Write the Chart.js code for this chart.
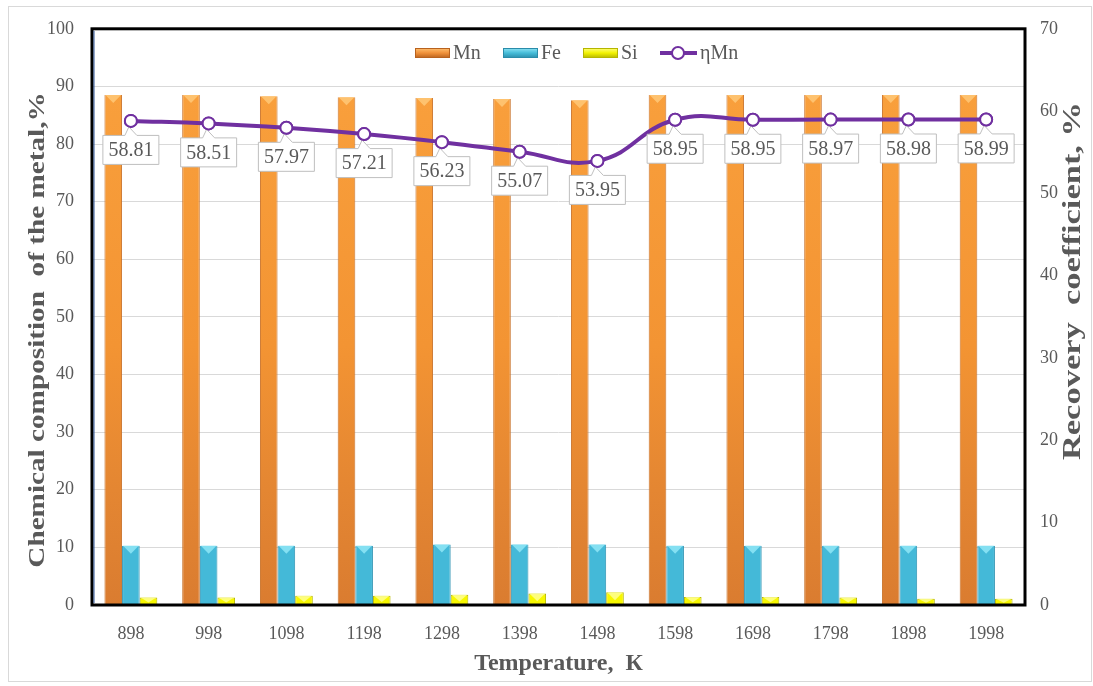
<!DOCTYPE html>
<html><head><meta charset="utf-8">
<script src="https://cdn.jsdelivr.net/npm/chart.js@4.4.1/dist/chart.umd.min.js"></script>
<style>
html,body{margin:0;padding:0;background:#fff;}
#wrap{position:absolute;left:0;top:0;width:1093px;height:686px;}
#frame{position:absolute;left:8px;top:6px;width:1084px;height:676px;border:1px solid #d9d9d9;box-sizing:border-box;pointer-events:none;}
</style></head>
<body>
<div id="wrap"><canvas id="c" width="1093" height="686"></canvas></div>
<div id="frame"></div>
<script>
const categories = ['898','998','1098','1198','1298','1398','1498','1598','1698','1798','1898','1998'];
const mnValues = [88.5,88.5,88.3,88.1,88.0,87.8,87.6,88.5,88.5,88.5,88.5,88.5];
const feValues = [10.3,10.3,10.3,10.3,10.5,10.5,10.5,10.3,10.3,10.3,10.3,10.3];
const siValues = [1.3,1.3,1.6,1.6,1.8,2.0,2.2,1.4,1.4,1.3,1.1,1.1];
const etaValues = [58.81,58.51,57.97,57.21,56.23,55.07,53.95,58.95,58.95,58.97,58.98,58.99];
const leftTicks = [0,10,20,30,40,50,60,70,80,90,100];
const rightTicks = [0,10,20,30,40,50,60,70];
const leftTitle = 'Chemical composition  of the metal,%';
const rightTitle = 'Recovery  coefficient, %';

const SERIF = '"Liberation Serif","DejaVu Serif",serif';
const GREY = '#595959';

function vGrad(stops){
  return function(ctx){
    const a = ctx.chart.chartArea;
    if(!a) return stops[1][1];
    const g = ctx.chart.ctx.createLinearGradient(0, a.top, 0, a.bottom);
    stops.forEach(s=>g.addColorStop(s[0], s[1]));
    return g;
  };
}

const bevelPlugin = {
  id:'bevel',
  afterDatasetsDraw(chart){
    const c = chart.ctx;
    const tops = ['#FFC878','#8FE6F7','#FFFF90'];
    [0,1,2].forEach(di=>{
      chart.getDatasetMeta(di).data.forEach(el=>{
        const w = el.width, x0 = el.x - w/2, y0 = el.y;
        c.save();
        c.fillStyle = tops[di];
        c.globalAlpha = 0.85;
        c.beginPath();
        c.moveTo(x0+1, y0); c.lineTo(x0+w-1, y0); c.lineTo(el.x, y0 + Math.min(8, (el.base - el.y)*0.7)); c.closePath();
        c.fill();
        c.restore();
      });
    });
  }
};

const labelPlugin = {
  id:'etaLabels',
  afterDatasetsDraw(chart){
    const c = chart.ctx;
    const meta = chart.getDatasetMeta(3);
    c.save();
    c.font = '20px ' + SERIF;
    meta.data.forEach((pt,i)=>{
      const txt = etaValues[i].toFixed(2);
      const tw = c.measureText(txt).width;
      const w = tw + 12, h = 30;
      const x = pt.x - w/2, y = pt.y + 14;
      c.fillStyle = '#fff';
      c.strokeStyle = '#BFBFBF';
      c.lineWidth = 1;
      c.beginPath();
      c.moveTo(x+0.5, y+0.5);
      c.lineTo(pt.x - 6, y+0.5);
      c.lineTo(pt.x - 2, pt.y + 6);
      c.lineTo(pt.x + 6, y+0.5);
      c.lineTo(x + w - 0.5, y+0.5);
      c.lineTo(x + w - 0.5, y + h - 0.5);
      c.lineTo(x + 0.5, y + h - 0.5);
      c.closePath();
      c.fill(); c.stroke();
      c.fillStyle = GREY;
      c.textAlign = 'center';
      c.textBaseline = 'middle';
      c.fillText(txt, pt.x, y + h/2 + 1);
    });
    meta.data.forEach(pt=>{
      c.beginPath();
      c.arc(pt.x, pt.y, 6, 0, Math.PI*2);
      c.fillStyle='#fff'; c.fill();
      c.lineWidth=2; c.strokeStyle='#7030A0'; c.stroke();
    });
    c.restore();
  }
};

const framePlugin = {
  id:'frame',
  afterDraw(chart){
    const a = chart.chartArea, c = chart.ctx;
    c.save();
    c.strokeStyle = '#000';
    c.lineWidth = 3;
    c.strokeRect(a.left, a.top, a.right - a.left, a.bottom - a.top);
    c.strokeStyle = '#2F5597';
    c.lineWidth = 1;
    c.beginPath(); c.moveTo(a.left+2, a.top+2); c.lineTo(a.left+2, a.bottom-2); c.stroke();
    c.fillStyle = GREY;
    c.font = 'bold 23px ' + SERIF;
    c.textAlign = 'center';
    c.textBaseline = 'middle';
    c.save();
    c.translate(38, 330); c.rotate(-Math.PI/2); c.scale(1.27, 1);
    c.fillText(leftTitle, 0, 0);
    c.restore();
    c.save();
    c.translate(1074, 281); c.rotate(-Math.PI/2); c.scale(1.5, 1.05);
    c.fillText(rightTitle, 0, 0);
    c.restore();
    c.restore();
  }
};

const legendPlugin = {
  id:'customLegend',
  afterDatasetsDraw(chart){
    const c = chart.ctx;
    c.save();
    const yc = 53;
    c.font = '20px ' + SERIF;
    c.textBaseline = 'middle';
    c.textAlign = 'left';
    const items = [
      {x:415, label:'Mn', edge:'#B8621E', mid:'#F0913A', light:'#FFC070'},
      {x:503, label:'Fe', edge:'#2A8CAA', mid:'#45BCD8', light:'#8FE4F5'},
      {x:583, label:'Si', edge:'#B5B500', mid:'#F2F200', light:'#FFFF80'}
    ];
    items.forEach(it=>{
      const g = c.createLinearGradient(0, yc-5, 0, yc+5);
      g.addColorStop(0, it.light); g.addColorStop(0.5, it.mid); g.addColorStop(1, it.edge);
      c.fillStyle = g;
      c.fillRect(it.x, yc-5, 35, 10);
      c.strokeStyle = it.edge; c.lineWidth = 1;
      c.strokeRect(it.x+0.5, yc-4.5, 34, 9);
      c.fillStyle = GREY;
      c.fillText(it.label, it.x + 38, yc+1);
    });
    c.strokeStyle = '#7030A0'; c.lineWidth = 4;
    c.beginPath(); c.moveTo(660, yc); c.lineTo(697, yc); c.stroke();
    c.beginPath(); c.arc(678, yc, 6, 0, Math.PI*2);
    c.fillStyle = '#fff'; c.fill(); c.lineWidth = 2; c.stroke();
    c.fillStyle = GREY;
    c.fillText('ηMn', 700, yc+1);
    c.restore();
  }
};

new Chart(document.getElementById('c'), {
  data:{
    labels: categories,
    datasets:[
      {type:'bar', label:'Mn', data:mnValues, yAxisID:'y',
       backgroundColor:vGrad([[0,'#FAA23E'],[0.55,'#F39433'],[0.8,'#E48632'],[1,'#DA7C30']]),
       borderColor:'#C9742C', borderWidth:{left:1,right:1,top:0,bottom:0}, order:2,
       categoryPercentage:0.68, barPercentage:1},
      {type:'bar', label:'Fe', data:feValues, yAxisID:'y', backgroundColor:'#44B9D8',
       borderColor:'#2E93B2', borderWidth:{left:1,right:1,top:0,bottom:0}, order:2,
       categoryPercentage:0.68, barPercentage:1},
      {type:'bar', label:'Si', data:siValues, yAxisID:'y', backgroundColor:'#F7F700',
       borderColor:'#B8B800', borderWidth:1, order:2,
       categoryPercentage:0.68, barPercentage:1},
      {type:'line', label:'ηMn', data:etaValues, yAxisID:'y1', borderColor:'#7030A0', borderWidth:4,
       tension:0.45, pointRadius:6, pointBackgroundColor:'#fff', pointBorderColor:'#7030A0', pointBorderWidth:2, order:1}
    ]
  },
  options:{
    responsive:false,
    animation:false,
    layout:{padding:{top:22, left:10, right:8, bottom:4}},
    plugins:{legend:{display:false}, tooltip:{enabled:false}},
    scales:{
      x:{
        grid:{display:false},
        border:{display:false},
        ticks:{color:GREY, font:{family:SERIF, size:18}, padding:10},
        title:{display:true, text:'Temperature,  К', color:GREY, font:{family:SERIF, size:24, weight:'bold'}, padding:{top:6}},
        afterFit(s){ s.height = 686 - 605 - 4; }
      },
      y:{
        position:'left', min:0, max:100,
        afterBuildTicks(s){ s.ticks = leftTicks.map(v=>({value:v})); },
        grid:{color:'#D9D9D9', lineWidth:1, drawTicks:false},
        border:{display:false},
        ticks:{color:GREY, font:{family:SERIF, size:18}, padding:18},
        afterFit(s){ s.width = 92 - 10; }
      },
      y1:{
        position:'right', min:0, max:70,
        afterBuildTicks(s){ s.ticks = rightTicks.map(v=>({value:v})); },
        grid:{display:false, drawTicks:false},
        border:{display:false},
        ticks:{color:GREY, font:{family:SERIF, size:18}, padding:15},
        afterFit(s){ s.width = 1093 - 1025 - 8; }
      }
    }
  },
  plugins:[framePlugin, bevelPlugin, labelPlugin, legendPlugin]
});
</script>
</body></html>
